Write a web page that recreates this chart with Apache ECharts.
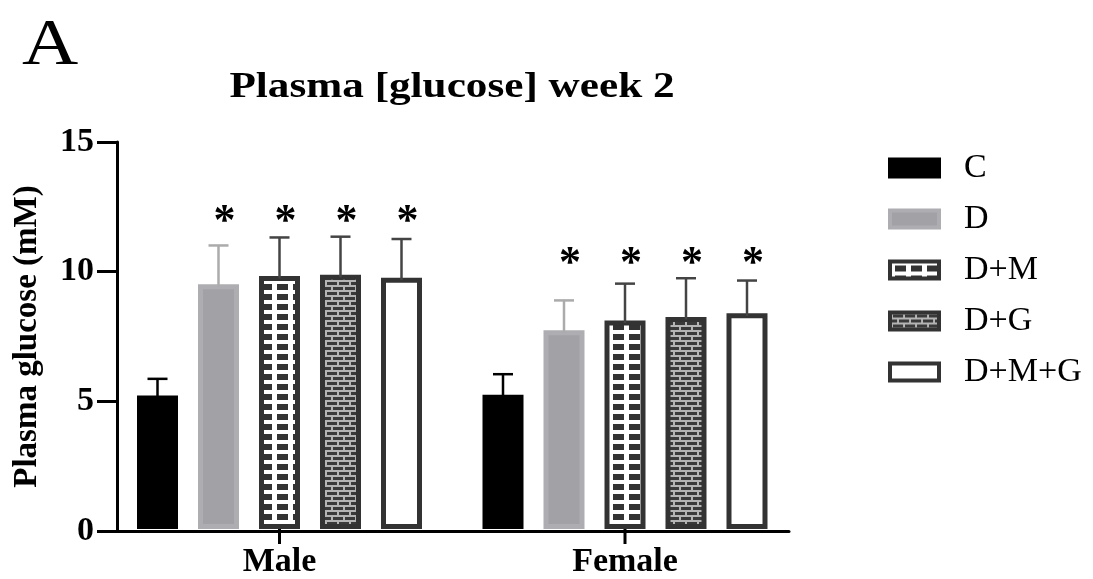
<!DOCTYPE html>
<html>
<head>
<meta charset="utf-8">
<script src="https://cdn.jsdelivr.net/npm/echarts@6/dist/echarts.min.js"></script>
<style>
  html, body { margin: 0; padding: 0; background: #fff; }
  #chart { width: 1093px; height: 579px; }
</style>
</head>
<body>
<div id="chart"></div>
<script>
// ---------------- data ----------------
const categories = ['Male', 'Female'];
const groupNames = ['C', 'D', 'D+M', 'D+G', 'D+M+G'];
const meanC   = [5.17, 5.20];
const meanD   = [9.49, 7.70];
const meanDM  = [9.81, 8.08];
const meanDG  = [9.85, 8.22];
const meanDMG = [9.74, 8.36];
const semC    = [0.65, 0.80];
const semD    = [1.50, 1.16];
const semDM   = [1.49, 1.43];
const semDG   = [1.48, 1.50];
const semDMG  = [1.50, 1.27];
const significant = [false, true, true, true, true];
const yTicks = [0, 5, 10, 15];
const chartTitle = 'Plasma [glucose] week 2';
const panelLabel = 'A';
const yAxisTitle = 'Plasma glucose (mM)';

// ---------------- layout / styling ----------------
const GRID_BARS  = { left: 106.75, right: 295.25, top: 142, bottom: 48 };
const GRID_FRAME = { left: 117, right: 304, top: 142, bottom: 48 };
const SERIF = '"Liberation Serif", "Times New Roman", serif';
const BAR_W = 41, BORDER = 5, GAP = 20, PITCH = BAR_W + GAP;
const DARK = '#333333';

function makeLadder() {
  const c = document.createElement('canvas');
  c.width = 16; c.height = 10;
  const g = c.getContext('2d');
  g.fillStyle = DARK; g.fillRect(0, 0, 16, 10);
  g.fillStyle = '#ffffff';
  g.fillRect(0, 0, 16, 4);
  g.fillRect(0, 0, 5, 10);
  return c;
}
function makeBrick() {
  const c = document.createElement('canvas');
  c.width = 12; c.height = 10;
  const g = c.getContext('2d');
  g.fillStyle = '#3a3a3a'; g.fillRect(0, 0, 12, 10);
  g.fillStyle = '#b4b4b4';
  g.fillRect(0, 0, 12, 2);
  g.fillRect(0, 5, 12, 2);
  g.fillRect(1, 0, 2, 5);
  g.fillRect(7, 5, 2, 5);
  return c;
}

const means = [meanC, meanD, meanDM, meanDG, meanDMG];
const sems = [semC, semD, semDM, semDG, semDMG];
const styles = [
  { color: '#000000', borderColor: '#000000', err: '#000000' },
  { color: '#a1a1a6', borderColor: '#aeaeb2', err: '#ababab' },
  { color: { image: makeLadder(), repeat: 'repeat' }, borderColor: DARK, err: '#444444' },
  { color: { image: makeBrick(), repeat: 'repeat' }, borderColor: DARK, err: '#444444' },
  { color: '#ffffff', borderColor: DARK, err: '#444444' }
];

const barSeries = groupNames.map((name, k) => ({
  name: name,
  type: 'bar',
  xAxisIndex: 0,
  yAxisIndex: 0,
  barWidth: BAR_W,
  barGap: (GAP / BAR_W * 100).toFixed(2) + '%',
  data: means[k],
  itemStyle: {
    color: styles[k].color,
    borderColor: styles[k].borderColor,
    borderWidth: BORDER
  },
  z: 2
}));

// error bars
const errData = [];
groupNames.forEach((name, k) => {
  categories.forEach((cat, i) => {
    errData.push([i, means[k][i], means[k][i] + sems[k][i], k]);
  });
});
const errSeries = {
  type: 'custom',
  name: 'err',
  xAxisIndex: 0,
  yAxisIndex: 0,
  z: 3,
  silent: true,
  data: errData,
  encode: { x: 0, y: [1, 2] },
  renderItem: function (params, api) {
    const i = api.value(0), k = api.value(3);
    const base = api.coord([i, api.value(1)]);
    const top = api.coord([i, api.value(2)]);
    const x = base[0] + (k - 2) * PITCH;
    const st = { stroke: styles[k].err, lineWidth: 2.5 };
    return {
      type: 'group',
      children: [
        { type: 'line', shape: { x1: x, y1: base[1] + BORDER / 2, x2: x, y2: top[1] }, style: st },
        { type: 'line', shape: { x1: x - 10, y1: top[1], x2: x + 10, y2: top[1] }, style: st }
      ]
    };
  }
};

// significance asterisks: above the highest error bar of each sex group
const starData = [];
categories.forEach((cat, i) => {
  let maxTop = 0;
  groupNames.forEach((n, k) => { maxTop = Math.max(maxTop, means[k][i] + sems[k][i]); });
  groupNames.forEach((n, k) => {
    if (significant[k]) starData.push([i, maxTop, k]);
  });
});
const starSeries = {
  type: 'custom',
  name: 'stars',
  xAxisIndex: 0,
  yAxisIndex: 0,
  z: 4,
  silent: true,
  data: starData,
  encode: { x: 0, y: 1 },
  renderItem: function (params, api) {
    const i = api.value(0), k = api.value(2);
    const p = api.coord([i, api.value(1)]);
    return {
      type: 'text',
      style: {
        x: p[0] + (k - 2) * PITCH + 6,
        y: p[1] - 14,
        text: '*',
        fill: '#000',
        font: 'bold 44px ' + SERIF,
        textAlign: 'center',
        textVerticalAlign: 'middle'
      }
    };
  }
};

const yMin = yTicks[0], yMax = yTicks[yTicks.length - 1], yStep = yTicks[1] - yTicks[0];

const chart = echarts.init(document.getElementById('chart'), null, { renderer: 'canvas' });
chart.setOption({
  animation: false,
  backgroundColor: '#ffffff',
  grid: [
    Object.assign({ containLabel: false }, GRID_BARS),
    Object.assign({ containLabel: false }, GRID_FRAME)
  ],
  graphic: [
    { id: 'panelLabel', type: 'text', x: 22, y: 14, scaleX: 1.18,
      style: { x: 0, y: 0, text: panelLabel, font: '66px ' + SERIF, fill: '#000',
               textAlign: 'left', textVerticalAlign: 'top' } },
    { id: 'chartTitle', type: 'text', x: 452, y: 88, scaleX: 1.2,
      style: { x: 0, y: 0, text: chartTitle, font: 'bold 36px ' + SERIF, fill: '#000',
               textAlign: 'center', textVerticalAlign: 'middle' } }
  ],
  legend: {
    orient: 'vertical',
    left: 888,
    top: 151,
    padding: 0,
    icon: 'rect',
    itemWidth: 49,
    itemHeight: 17,
    itemGap: 17,
    data: groupNames,
    selectedMode: false,
    itemStyle: { borderWidth: 4 },
    textStyle: {
      fontFamily: SERIF, fontSize: 34, color: '#000', padding: [0, 0, 0, 20], lineHeight: 34
    }
  },
  xAxis: [
    {
      type: 'category',
      gridIndex: 0,
      position: 'bottom',
      data: categories,
      z: 6,
      axisLine: { show: false },
      axisTick: { show: false },
      axisLabel: { fontFamily: SERIF, fontWeight: 'bold', fontSize: 34, color: '#000', margin: 16 }
    },
    {
      type: 'value',
      gridIndex: 1,
      min: 0, max: 1,
      z: 5,
      axisLine: { show: true, onZero: false, lineStyle: { color: '#000', width: 3 } },
      axisTick: { show: false },
      axisLabel: { show: false },
      splitLine: { show: false }
    }
  ],
  yAxis: [
    {
      type: 'value',
      gridIndex: 0,
      min: yMin, max: yMax, interval: yStep,
      show: false,
      splitLine: { show: false }
    },
    {
      type: 'value',
      gridIndex: 1,
      min: yMin, max: yMax, interval: yStep,
      z: 5,
      name: yAxisTitle,
      nameLocation: 'middle',
      nameGap: 73,
      nameTextStyle: { fontFamily: SERIF, fontWeight: 'bold', fontSize: 33, color: '#000' },
      splitLine: { show: false },
      axisLine: { show: true, onZero: false, lineStyle: { color: '#000', width: 3 } },
      axisTick: { show: true, length: 20, lineStyle: { color: '#000', width: 3 } },
      axisLabel: { fontFamily: SERIF, fontWeight: 'bold', fontSize: 34, color: '#000', margin: 23 }
    }
  ],
  series: barSeries.concat([errSeries, starSeries])
});

// category tick marks below the x axis, positioned through the bar grid's own scales
const catTicks = [];
categories.forEach((c, i) => {
  const p = chart.convertToPixel({ xAxisIndex: 0, yAxisIndex: 0 }, [i, yMin]);
  if (p && isFinite(p[0]) && isFinite(p[1])) {
    catTicks.push({
      id: 'catTick' + i,
      type: 'rect',
      z: 100,
      silent: true,
      shape: { x: p[0] - 1.5, y: p[1], width: 3, height: 15 },
      style: { fill: '#000000' }
    });
  }
});
chart.setOption({ graphic: catTicks });
</script>
</body>
</html>
